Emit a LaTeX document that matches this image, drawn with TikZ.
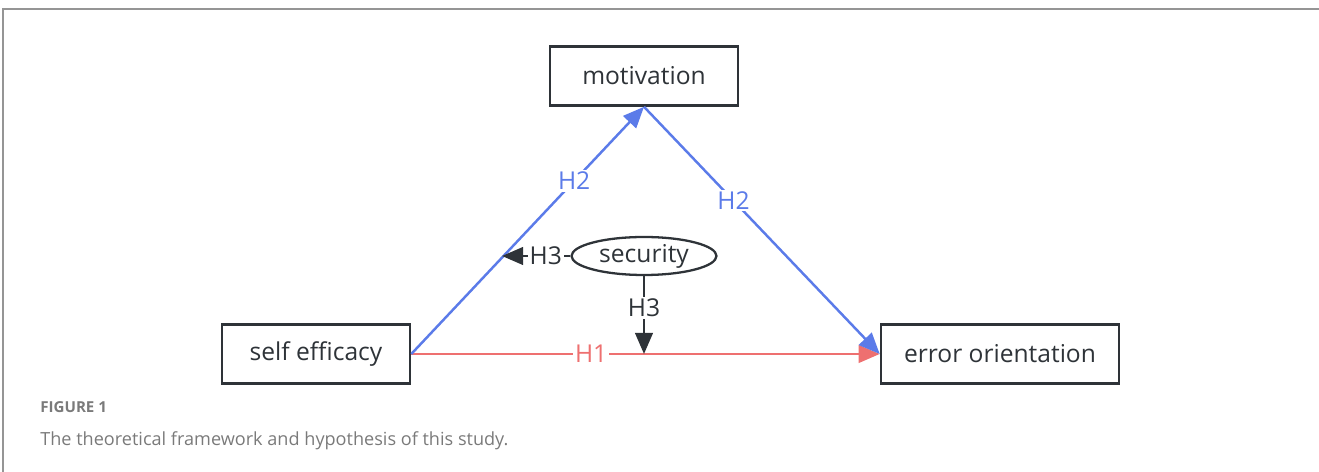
\documentclass[tikz,border=0pt]{standalone}
\usepackage{fontspec}
\setmainfont{Open Sans}
\usepackage{tikz}
\usetikzlibrary{arrows.meta,shapes.geometric}
\definecolor{hblue}{HTML}{5B7BE9}
\definecolor{hred}{HTML}{EE7070}
\definecolor{hdark}{HTML}{2E3338}
\definecolor{capgray}{HTML}{7A7A7A}

\tikzset{
  varbox/.style={draw=hdark, line width=1.5pt, minimum height=1.18cm, font=\fontsize{14}{16}\selectfont, text=hdark},
  hyplabel/.style={fill=white, inner sep=1pt, font=\fontsize{14}{16}\selectfont},
  tip/.style={-{Triangle[length=12pt,width=10pt]}}
}

\begin{document}
\begin{tikzpicture}[x=0.02cm,y=-0.02cm]
            \useasboundingbox (0,0) rectangle (1319,472);
            \draw[capgray!80, line width=1.1pt] (3,472) -- (3,9) -- (1319,9);
            % variables
            \node[varbox, minimum width=3.76cm] (mot) at (644,76) {motivation};
            \node[varbox, minimum width=3.76cm] (self) at (316,354) {self efficacy};
            \node[varbox, minimum width=4.76cm] (err) at (1000,354) {error orientation};
            \node[ellipse, draw=hdark, line width=1.3pt, minimum width=2.9cm, minimum height=0.76cm, inner sep=0pt, font=\fontsize{14}{16}\selectfont, text=hdark] (sec) at (644,256) {security};
            \coordinate (hitA) at (502,256);
            \coordinate (hitB) at (644,354);
            % paths
            \draw[tip, hred, line width=1.4pt] (self.east) -- (err.west) node[hyplabel, text=hred, pos=0.384]{H1};
            \draw[tip, hblue, line width=1.4pt] (self.east) -- (mot.south) node[hyplabel, text=hblue, pos=0.7]{H2};
            \draw[tip, hblue, line width=1.4pt] (mot.south) -- (err.west) node[hyplabel, text=hblue, pos=0.38]{H2};
            \draw[tip, hdark, line width=1.4pt] (sec.west) -- (hitA) node[hyplabel, text=hdark, pos=0.36]{H3};
            \draw[tip, hdark, line width=1.4pt] (sec.south) -- (hitB) node[hyplabel, text=hdark, pos=0.41]{H3};
            % caption
            \node[anchor=west, inner sep=0pt, text=capgray, font=\fontsize{8.6}{10}\selectfont\bfseries] (fig) at (40,407) {FIGURE 1};
            \node[anchor=west, inner sep=0pt, text=capgray, font=\fontsize{10.3}{12}\selectfont] (cap) at (40,441) {The theoretical framework and hypothesis of this study.};
        \end{tikzpicture}
\end{document}
